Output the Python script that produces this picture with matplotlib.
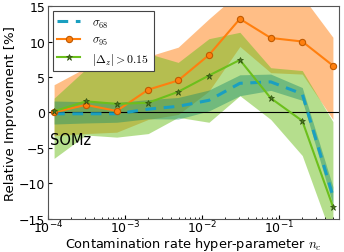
import matplotlib
matplotlib.use('Agg')
import matplotlib.pyplot as plt
import numpy as np

plt.rcParams['mathtext.fontset'] = 'cm'
plt.rcParams['font.family'] = 'DejaVu Sans'

# contamination rate hyper-parameter values
n_c = [1.2e-4, 3.1e-4, 7.8e-4, 2.0e-3, 4.9e-3, 1.23e-2, 3.1e-2, 7.8e-2, 0.2, 0.5]

# sigma_68 improvement and its spread
sig68 = [-0.2, -0.2, -0.2, 0.45, 0.85, 1.7, 4.1, 4.3, 2.6, -11.8]
sig68_lo = [-1.65, -1.5, -1.4, -0.9, -0.95, 0.2, 2.35, 3.1, 1.7, -13.0]
sig68_hi = [1.6, 1.5, 1.4, 1.8, 2.1, 3.15, 5.3, 5.4, 3.5, -10.5]

# sigma_95 improvement and its spread
sig95 = [0.0, 1.05, 0.2, 3.2, 4.5, 8.1, 13.2, 10.5, 10.0, 6.6]
sig95_lo = [-3.3, -3.0, -2.8, -1.0, -0.3, 3.0, 9.3, 5.6, 5.4, -1.0]
sig95_hi = [3.9, 6.3, 6.3, 7.9, 9.2, 13.2, 17.0, 18.0, 16.4, 10.6]

# outlier fraction (|dz| > 0.15) improvement and its spread
outl = [0.15, 1.55, 1.2, 1.35, 2.9, 5.2, 7.4, 2.0, -1.2, -13.3]
outl_lo = [-6.5, -3.2, -3.5, -3.0, -0.7, -1.4, 2.35, -1.0, -6.1, -18.0]
outl_hi = [2.0, 6.1, 6.1, 8.3, 7.05, 10.4, 11.3, 6.3, 5.9, -1.3]

c68 = '#1a9fc0'
c95 = '#ff7f0e'
cout = '#6cbf1c'

fig = plt.figure(figsize=(3.44, 2.53), dpi=100)
ax = fig.add_axes([0.1395, 0.132, 0.846, 0.840])

ax.fill_between(n_c, sig95_lo, sig95_hi, color=c95, alpha=0.5, lw=0)
ax.fill_between(n_c, outl_lo, outl_hi, color=cout, alpha=0.5, lw=0)
ax.fill_between(n_c, sig68_lo, sig68_hi, color='#1f8f6a', alpha=0.45, lw=0)

ax.axhline(0, color='k', lw=0.8, zorder=1)

ax.plot(n_c, sig68, '--', color=c68, lw=2.2, dashes=(3.5, 2.5), label=r'$\sigma_{68}$', zorder=3)
ax.plot(n_c, sig95, '-o', color=c95, lw=1.5, ms=4.5, mec='#c05a00', mew=0.8,
        label=r'$\sigma_{95}$', zorder=4)
ax.plot(n_c, outl, '-*', color=cout, lw=1.5, ms=4.5, mec='#2f4f10', mfc='#4a7a20', mew=0.5,
        label=r'$|\Delta_z|>0.15$', zorder=4)

ax.set_xscale('log')
ax.set_xlim(1e-4, 0.6)
ax.set_ylim(-15, 15)
ax.set_yticks([-15, -10, -5, 0, 5, 10, 15])

ax.tick_params(direction='in', which='both', labelsize=9, top=False, right=False)
ax.tick_params(which='major', length=3)
ax.tick_params(which='minor', length=1.5)
ax.tick_params(axis='x', pad=0)
ax.tick_params(axis='y', pad=2)
for sp in ax.spines.values():
    sp.set_color('#555555')

ax.set_xlabel(r'Contamination rate hyper-parameter $n_c$', fontsize=9.3, labelpad=-0.5)
ax.set_ylabel('Relative Improvement [%]', fontsize=9.5, labelpad=1)

ax.text(1.07e-4, -3.9, 'SOMz', fontsize=10.5, va='center', ha='left')

leg = ax.legend(loc='upper left', fontsize=8.5, fancybox=False, framealpha=1,
                edgecolor='#444444', handlelength=1.9, handletextpad=1.0,
                labelspacing=0.3, borderaxespad=0.4)
leg.get_frame().set_linewidth(0.8)

fig.savefig('out.png', dpi=100)
